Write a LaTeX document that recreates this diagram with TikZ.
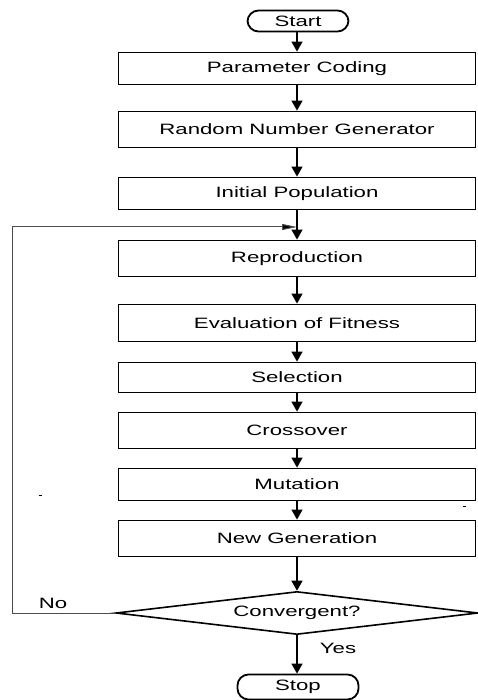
\documentclass[tikz,border=0pt]{standalone}
\usepackage{fontspec}
\setmainfont[FakeStretch=1.48]{Liberation Sans}
\usetikzlibrary{shapes.geometric,arrows.meta}
\begin{document}
\begin{tikzpicture}[x=1pt,y=-1pt,
  txt/.style={font=\fontsize{15}{18}\selectfont},
  procbox/.style={txt,draw,line width=1.8pt,minimum width=357pt,inner sep=0pt},
  term/.style={txt,draw,line width=1.8pt,rounded corners=11pt,inner sep=0pt},
  decision/.style={txt,draw,diamond,line width=1.6pt,aspect=8,inner sep=0pt,minimum width=362pt,minimum height=43pt},
  flow/.style={line width=1.3pt,-{Triangle[length=10pt,width=11pt]}},
  fb/.style={line width=1pt,draw=black!70,-{Triangle[length=15pt,width=6pt,fill=black]}},
  lbl/.style={txt,inner sep=0pt}]
\useasboundingbox (0,0) rectangle (478,700);
\node[term,minimum width=101pt,minimum height=21pt] (start) at (298,21) {Start};
\node[procbox,minimum height=32pt] (pc) at (297,68.5) {Parameter Coding};
\node[procbox,minimum height=36pt] (rng) at (297,129.5) {Random Number Generator};
\node[procbox,minimum height=32pt] (ip) at (297,193.5) {Initial Population};
\node[procbox,minimum height=36pt] (rep) at (297,258.5) {Reproduction};
\node[procbox,minimum height=37pt] (ev) at (297,323) {Evaluation of Fitness};
\node[procbox,minimum height=30pt] (sel) at (297,377.5) {Selection};
\node[procbox,minimum height=36pt] (cro) at (297,430.5) {Crossover};
\node[procbox,minimum height=32pt] (mut) at (297,484.5) {Mutation};
\node[procbox,minimum height=36pt] (ng) at (297,538.5) {New Generation};
\node[decision] (dia) at (297,613) {Convergent?};
\node[term,minimum width=121pt,minimum height=25pt] (stop) at (298,687) {Stop};
\node[lbl] (no) at (53,603) {No};
\node[lbl] (yes) at (338,648) {Yes};
\coordinate (j) at (297,227);
\coordinate (lb) at (12,613);
\coordinate (lt) at (12,227);
\draw[flow] (start.south -| pc.north) -- (pc.north);
\draw[flow] (pc) -- (rng);
\draw[flow] (rng) -- (ip);
\draw[line width=1.3pt] (ip.south) -- (j);
\draw[flow] (j) -- (rep.north);
\draw[flow] (rep) -- (ev);
\draw[flow] (ev) -- (sel);
\draw[flow] (sel) -- (cro);
\draw[flow] (cro) -- (mut);
\draw[flow] (mut) -- (ng);
\draw[flow] (ng) -- (dia);
\draw[flow] (dia.south) -- (stop.north -| dia.south);
\draw[fb] (dia.west) -- (lb) -- (lt) -- (j);
\draw[line width=1pt] (38.5,495) -- (41.5,495);
\draw[line width=1pt] (462.5,506) -- (465.5,506);
\end{tikzpicture}
\end{document}
